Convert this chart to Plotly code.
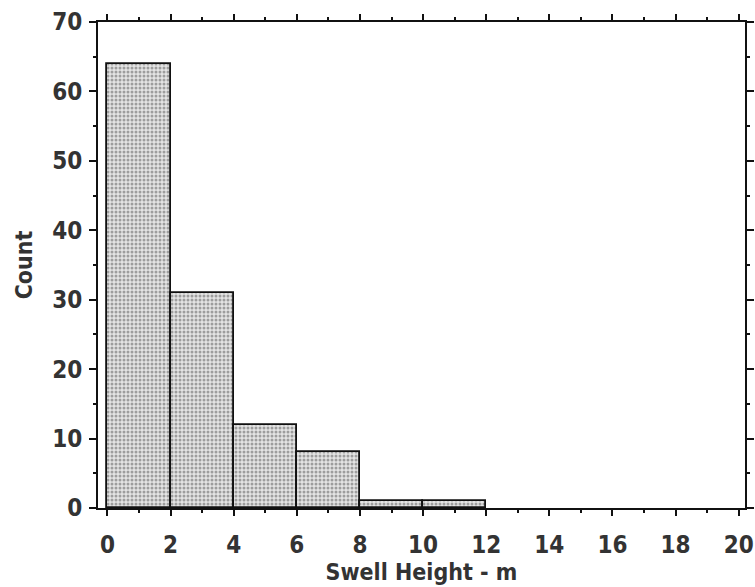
import plotly.graph_objects as go

bin_left = [0, 2, 4, 6, 8, 10]
bin_width = 2
counts = [64, 31, 12, 8, 1, 1]
x_ticks = [0, 2, 4, 6, 8, 10, 12, 14, 16, 18, 20]
y_ticks = [0, 10, 20, 30, 40, 50, 60, 70]

centers = [b + bin_width / 2 for b in bin_left]

fig = go.Figure()
fig.add_trace(go.Bar(
    x=centers, y=counts, width=[bin_width] * len(counts),
    marker=dict(
        color="#dcdcdc",
        line=dict(color="#111111", width=1.8),
        pattern=dict(shape=".", fgcolor="#555555", bgcolor="#e4e4e4", size=4, solidity=0.45),
    ),
    showlegend=False,
))

font_family = "DejaVu Sans Condensed, DejaVu Sans"
tick_font = dict(family=font_family, size=24, color="#333333", weight="bold")
fig.update_layout(
    width=755, height=587,
    margin=dict(l=98, r=10, t=22, b=79),
    paper_bgcolor="white", plot_bgcolor="white",
    bargap=0,
    font=dict(family=font_family, color="#333333"),
)
fig.update_xaxes(
    range=[-0.3, 20.2], tickvals=x_ticks, ticktext=[str(v) for v in x_ticks],
    showline=True, linecolor="#111111", linewidth=2, mirror="ticks",
    ticks="outside", ticklen=6, tickwidth=1.5, tickcolor="#111111",
    minor=dict(dtick=1, tick0=0, ticks="outside", ticklen=3, tickcolor="#111111", tickwidth=1.5),
    showgrid=False, zeroline=False, automargin=False,
    tickfont=tick_font, ticklabelstandoff=8,
    title=dict(text="Swell Height - m", font=dict(family=font_family, size=23, color="#333333", weight="bold"), standoff=4),
)
fig.update_yaxes(
    range=[0, 70], tickvals=y_ticks, ticktext=[str(v) for v in y_ticks],
    showline=True, linecolor="#111111", linewidth=2, mirror="ticks",
    ticks="outside", ticklen=7, tickwidth=1.5, tickcolor="#111111",
    minor=dict(dtick=5, tick0=0, ticks="outside", ticklen=3, tickcolor="#111111", tickwidth=1.5),
    showgrid=False, zeroline=False, automargin=False,
    tickfont=tick_font, ticklabelstandoff=2,
    title=dict(text="Count", font=dict(family=font_family, size=23, color="#333333", weight="bold"), standoff=13),
)

fig.write_html("out.html")
